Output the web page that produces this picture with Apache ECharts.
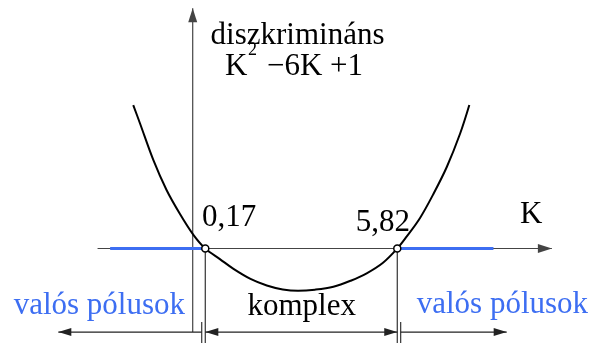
<!DOCTYPE html>
<html>
<head>
<meta charset="utf-8">
<script src="https://cdn.jsdelivr.net/npm/echarts@6/dist/echarts.min.js"></script>
<style>
  html, body { margin: 0; padding: 0; background: #fff; }
  #chart { width: 596px; height: 343px; }
</style>
</head>
<body>
<div id="chart"></div>
<script>
// Discriminant K^2 - 6K + 1 sketched against K
const curveK = [-1.95, -1.75, -1.36, -0.97, -0.57, -0.18, 0.17, 0.60, 1.00, 1.50, 1.98, 2.45, 2.90, 3.40, 3.94, 4.45, 4.92, 5.40, 5.82, 6.10, 6.49, 6.88, 7.28, 7.67, 7.94];
const curveV = [27.2, 23.7, 16.8, 11.1, 6.5, 2.6, 0.0, -2.0, -3.85, -5.75, -7.0, -7.75, -8.0, -7.8, -7.25, -6.1, -4.7, -2.7, 0.0, 2.3, 5.8, 10.3, 15.5, 21.8, 27.2];

// roots of the discriminant (labelled values)
const roots = [0.17, 5.82];

// K ranges with real poles (blue)
const realRanges = [[-2.63, 0.17], [5.82, 8.65]];

// axis extents: [x1, y1, x2, y2, headAtStart, headAtEnd]
const axisLines = [
  [-3.00, 0, 10.37, 0, 0, 1],         // K axis
  [-0.20, -15.83, -0.20, 45.54, 0, 1]  // discriminant axis
];

// dimension arrows below the axis
const dimLevel = -15.83;
const dimArrows = [
  [0.065, dimLevel, -4.155, dimLevel, 0, 1], // valós pólusok (left)
  [0.17, dimLevel, 5.82, dimLevel, 1, 1],    // komplex
  [5.92, dimLevel, 9.04, dimLevel, 0, 1]     // valós pólusok (right)
];
// extension lines
const extLines = [
  [0.17, 0, 0.17, -17.91, 0, 0],
  [5.82, 0, 5.82, -17.91, 0, 0],
  [0.065, -13.93, 0.065, -17.91, 0, 0],
  [5.92, -13.93, 5.92, -17.91, 0, 0]
];

const BLUE = '#3d6ef2';
const FONT = 'Liberation Serif';

function arrowRenderer(headLen, headHalf, color, width) {
  return function (params, api) {
    const a = api.coord([api.value(0), api.value(1)]);
    const b = api.coord([api.value(2), api.value(3)]);
    const children = [{
      type: 'line',
      shape: { x1: a[0], y1: a[1], x2: b[0], y2: b[1] },
      style: { stroke: color, lineWidth: width }
    }];
    const head = function (tip, from) {
      const dx = tip[0] - from[0], dy = tip[1] - from[1];
      const L = Math.hypot(dx, dy) || 1;
      const ux = dx / L, uy = dy / L;
      const bx = tip[0] - ux * headLen, by = tip[1] - uy * headLen;
      return {
        type: 'polygon',
        shape: { points: [[tip[0], tip[1]], [bx - uy * headHalf, by + ux * headHalf], [bx + uy * headHalf, by - ux * headHalf]] },
        style: { fill: color }
      };
    };
    if (api.value(4)) children.push(head(a, b));
    if (api.value(5)) children.push(head(b, a));
    return { type: 'group', children: children };
  };
}

const chart = echarts.init(document.getElementById('chart'), null, { renderer: 'canvas' });

chart.setOption({
  animation: false,
  backgroundColor: '#fff',
  grid: { left: 0, right: 0, top: 0, bottom: 0 },
  xAxis: { type: 'value', min: -5.871, max: 11.668, show: false },
  yAxis: { type: 'value', min: -17.91, max: 47.11, show: false },
  series: [
    {
      type: 'custom', renderItem: arrowRenderer(14, 4.5, '#444', 1.2),
      data: axisLines, z: 1, silent: true
    },
    {
      type: 'custom', renderItem: arrowRenderer(0, 0, '#333', 1.2),
      data: extLines, z: 1, silent: true
    },
    {
      type: 'custom', renderItem: arrowRenderer(13, 4, '#222', 1.2),
      data: dimArrows, z: 2, silent: true
    },
    ...realRanges.map(r => ({
      type: 'line', data: [[r[0], 0], [r[1], 0]], showSymbol: false,
      lineStyle: { color: BLUE, width: 3 }, z: 3, silent: true
    })),
    {
      type: 'line', smooth: 0.35, showSymbol: false,
      data: curveK.map((k, i) => [k, curveV[i]]),
      lineStyle: { color: '#000', width: 2 }, z: 4, silent: true
    },
    {
      type: 'scatter', data: roots.map(r => [r, 0]), symbol: 'circle', symbolSize: 7,
      itemStyle: { color: '#fff', borderColor: '#000', borderWidth: 1.5, opacity: 1 }, z: 5, silent: true
    }
  ]
});

// text placed by baseline
function txt(x, baseline, str, size, color, align) {
  return {
    type: 'text', x: x, y: baseline - 0.3375 * size, silent: true, z: 10,
    style: {
      text: str, fontFamily: FONT, fontSize: size, fill: color,
      align: align || 'left', verticalAlign: 'middle'
    }
  };
}
const fmt = v => v.toFixed(2).replace('.', ',');
const p0 = chart.convertToPixel({ gridIndex: 0 }, [roots[0], 0]);
const p1 = chart.convertToPixel({ gridIndex: 0 }, [roots[1], 0]);

chart.setOption({
  graphic: [
    txt(297.5, 46, 'diszkrimináns', 31, '#000', 'center'),
    txt(225, 77, 'K', 31, '#000'),
    txt(248, 56.5, '2', 18, '#000'),
    txt(267, 77, '\u22126K +1', 31, '#000'),
    txt(p0[0] - 3.3, 228, fmt(roots[0]), 31, '#000'),
    txt(p1[0] + 12.7, 233, fmt(roots[1]), 31, '#000', 'right'),
    txt(520, 225, 'K', 31, '#000'),
    txt(185, 316, 'valós pólusok', 31, BLUE, 'right'),
    txt(301.7, 317, 'komplex', 31, '#000', 'center'),
    txt(416.7, 315, 'valós pólusok', 31, BLUE)
  ]
});
</script>
</body>
</html>
